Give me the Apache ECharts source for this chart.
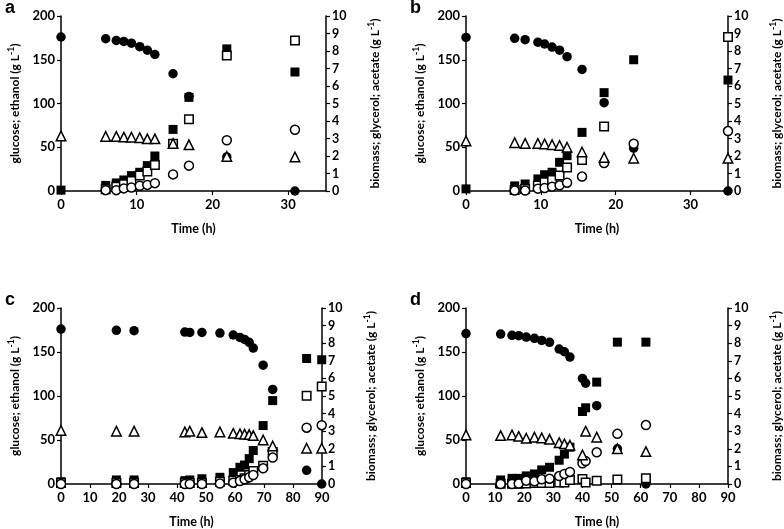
<!DOCTYPE html>
<html><head><meta charset="utf-8">
<script src="https://cdn.jsdelivr.net/npm/echarts@6/dist/echarts.min.js"></script>
<style>html,body{margin:0;padding:0;background:#fff}#c{width:784px;height:529px}</style>
</head><body><div id="c"></div>
<script>
// Panel a
const timeA = [0,5.9,7.3,8.3,9.3,10.4,11.4,12.4,14.8,16.9,21.9,30.9];
const glucoseA = [176,174,172,171,169,165,161,156,134,108,39,0];
const ethanolA = [null,1,1,3,4,6,7,9,19,29,58,70];
const biomassA = [0.05,0.32,0.46,0.63,0.88,1.07,1.45,2.0,3.52,5.35,8.12,6.8];
const glycerolA = [null,0.1,0.25,0.38,0.57,0.88,1.12,1.48,2.7,4.1,7.75,8.6];
const acetateA = [3.15,3.12,3.12,3.08,3.07,3.05,2.98,2.98,2.72,2.64,1.97,1.95];
// Panel b
const timeB = [0,6.5,7.9,9.6,10.5,11.5,12.5,13.5,15.5,18.45,22.4,35];
const glucoseB = [175.5,174.5,173,170,168,164.5,161,153.5,139,101,49,0];
const ethanolB = [null,0.5,0.5,2.7,3.4,5,6.5,9.5,16.5,32,54,68.5];
const biomassB = [0.12,0.29,0.4,0.69,0.93,1.07,1.64,2.02,3.35,5.62,7.5,6.34];
const glycerolB = [null,0.06,0.11,0.32,0.5,0.63,0.88,1.35,1.77,3.68,null,8.8];
const acetateB = [2.86,2.76,2.72,2.72,2.69,2.65,2.6,2.5,2.23,1.92,1.87,1.87];
// Panel c
const timeC = [0,19.1,25.2,42.7,44.4,48.6,54.8,59.4,61.7,63.3,64.9,66.3,69.7,73,84.7,89.9];
const glucoseC = [176,174.6,174.2,172.7,172.3,172.3,171.5,169.3,166.5,164.3,161,154.5,135,107.5,15.6,0];
const ethanolC = [0,0,0,0,0,0,0.5,1.5,3.4,5.3,7.6,10.2,17.8,30,64,66.8];
const biomassC = [0.13,0.23,0.23,0.19,0.23,0.3,0.38,0.65,0.95,1.08,1.44,1.9,3.32,4.74,7.13,7.06];
const glycerolC = [0.05,0.05,0.05,0.05,0.05,0.05,0.13,0.19,0.23,0.32,0.51,0.74,1.04,1.82,5.01,5.54];
const acetateC = [3.04,3.0,3.0,2.96,3.0,2.92,2.96,2.88,2.85,2.83,2.81,2.75,2.5,2.16,2.03,2.03];
// Panel d
const timeD = [0,11.9,15.8,18.1,20.7,23.5,26,28.7,32,33.8,35.7,40,41.1,44.9,52,61.8];
const glucoseD = [171,170.4,168.9,168.5,167,165.5,163.2,161,153.3,150.3,144.2,120,114.6,89,40,0];
const ethanolD = [0,0,0,0.5,3.8,3,5.3,6,9,11.4,13.7,23.5,26,36,57,67];
const biomassD = [0.13,0.23,0.32,0.32,0.46,0.57,0.8,0.95,1.35,1.7,2.09,4.12,4.33,5.79,8.06,8.06];
const glycerolD = [0.05,0.02,0.02,0.02,0.03,0.05,0.05,0.05,0.08,0.08,0.23,0.28,0.08,0.19,0.25,0.32];
const acetateD = [2.79,2.75,2.79,2.71,2.6,2.66,2.62,2.54,2.35,2.28,2.2,1.65,3.0,2.66,2.0,1.84];

const panelLetters = ['a','b','c','d'];
const xMax = [35,35,90,90];
const xTitle = 'Time (h)';
const leftName = 'glucose; ethanol (g L{s|-1})';
const rightName = 'biomass; glycerol; acetate (g L{s|-1})';

const panels = [
  {t:timeA,g:glucoseA,e:ethanolA,b:biomassA,gl:glycerolA,a:acetateA},
  {t:timeB,g:glucoseB,e:ethanolB,b:biomassB,gl:glycerolB,a:acetateB},
  {t:timeC,g:glucoseC,e:ethanolC,b:biomassC,gl:glycerolC,a:acetateC},
  {t:timeD,g:glucoseD,e:ethanolD,b:biomassD,gl:glycerolD,a:acetateD}
];
const grids = [
  {left:61,top:16,width:265,height:175},
  {left:466,top:16,width:263,height:175},
  {left:61,top:308,width:261,height:176},
  {left:466,top:308,width:262,height:176}
];
const FONT = 'Lato';
const black = '#000';
const axisLine = {show:true,onZero:false,lineStyle:{color:black,width:1.5}};
const axisTick = {show:true,inside:false,length:4,lineStyle:{color:black,width:1.2}};
const lbl = {color:black,fontFamily:FONT,fontWeight:'bold',fontSize:12.5};
const rich = {s:{fontSize:8.5,fontFamily:FONT,fontWeight:'bold',color:black,verticalAlign:'bottom',padding:[0,0,7,0]}};

const xAxis=[], yAxis=[], series=[], graphic=[];
panels.forEach((p,i)=>{
  xAxis.push({type:'value',gridIndex:i,min:0,max:xMax[i],interval:10,
    axisLine, axisTick, splitLine:{show:false},
    axisLabel:Object.assign({margin:7,showMaxLabel:xMax[i]===90},lbl,{fontSize:13}),
    name:xTitle,nameLocation:'middle',nameGap:31,
    nameTextStyle:{color:black,fontFamily:FONT,fontWeight:'bold',fontSize:12.5}});
  yAxis.push({type:'value',gridIndex:i,position:'left',min:0,max:200,interval:50,
    axisLine, axisTick, splitLine:{show:false},
    axisLabel:Object.assign({margin:6},lbl,{fontSize:13}),
    name:leftName,nameLocation:'middle',nameGap:38,nameRotate:90,
    nameTextStyle:{color:black,fontFamily:FONT,fontWeight:'bold',fontSize:12,rich}});
  yAxis.push({type:'value',gridIndex:i,position:'right',min:0,max:10,interval:1,
    axisLine, axisTick, splitLine:{show:false},
    axisLabel:Object.assign({margin:6},lbl),
    name:rightName,nameLocation:'middle',nameGap:41,nameRotate:90,
    nameTextStyle:{color:black,fontFamily:FONT,fontWeight:'bold',fontSize:12,rich}});
  const pair = arr => p.t.map((t,k)=> arr[k]==null ? null : [t,arr[k]]).filter(d=>d);
  const mk = (name,arr,yi,symbol,size,filled,z)=>({
    name,type:'scatter',xAxisIndex:i,yAxisIndex:2*i+yi,data:pair(arr),
    symbol,symbolSize:size,z,
    itemStyle:filled?{color:black,borderColor:black,borderWidth:0,opacity:1}:{color:'#fff',borderColor:black,borderWidth:1.5,opacity:1},
    emphasis:{disabled:true}
  });
  series.push(mk('glucose',p.g,0,'circle',9.5,true,2));
  series.push(mk('biomass',p.b,1,'rect',9,true,3));
  series.push(mk('glycerol',p.gl,1,'rect',8.5,false,4));
  series.push(mk('ethanol',p.e,0,'circle',9,false,5));
  series.push(mk('acetate',p.a,1,'triangle',9.5,false,6));
  graphic.push({type:'text',left:grids[i].left-56,top:grids[i].top-17,
    style:{text:panelLetters[i],font:'bold 18px "Liberation Sans"',fill:black}});
});

const chart = echarts.init(document.getElementById('c'),null,{renderer:'canvas'});
chart.setOption({
  animation:false,
  backgroundColor:'#fff',
  grid:grids.map(g=>Object.assign({containLabel:false},g)),
  xAxis, yAxis, series, graphic
});
</script></body></html>
